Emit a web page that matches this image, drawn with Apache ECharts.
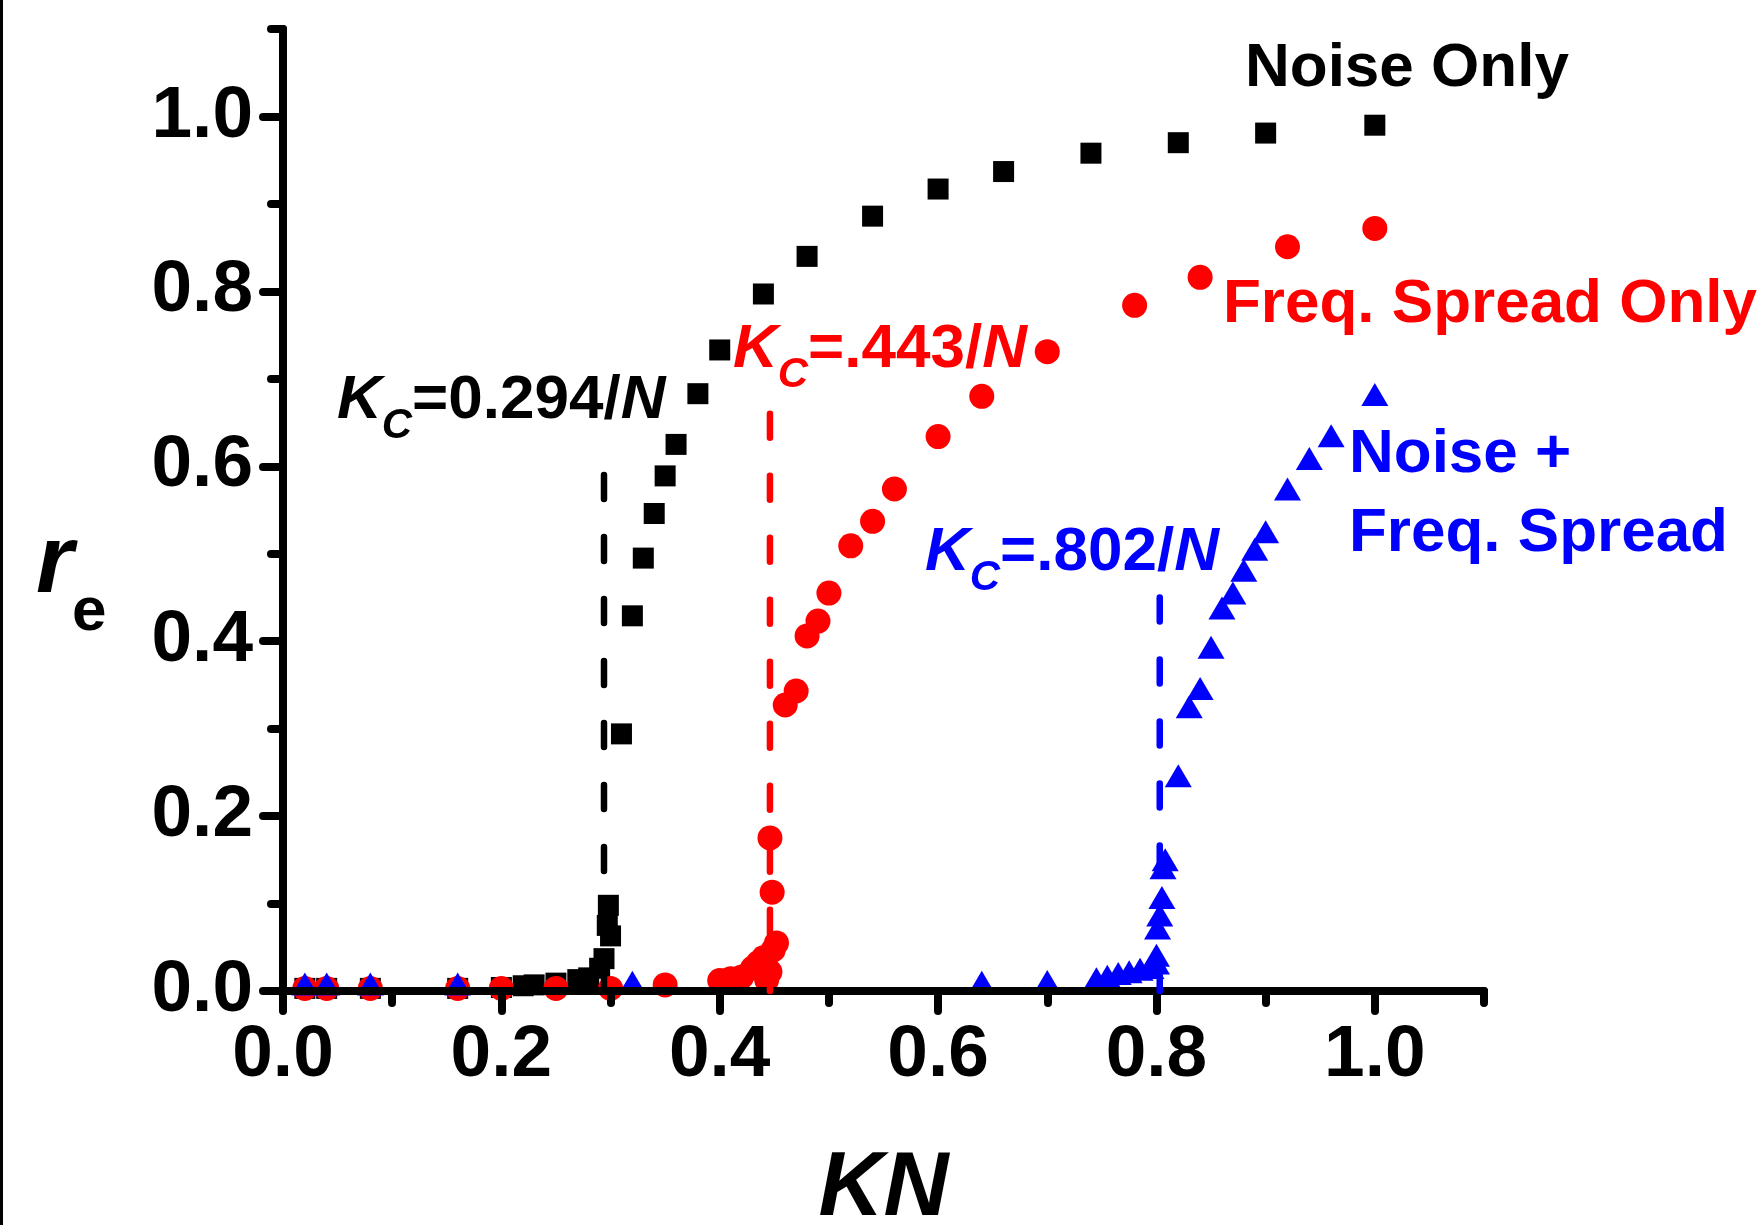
<!DOCTYPE html>
<html>
<head>
<meta charset="utf-8">
<title>r_e vs KN</title>
<script src="https://cdn.jsdelivr.net/npm/echarts@6/dist/echarts.min.js"></script>
<style>
  html, body { margin: 0; padding: 0; background: #fff; }
  #chart { width: 1764px; height: 1225px; }
</style>
</head>
<body>
<div id="chart"></div>
<script>
// values
var noiseKN = [0.02, 0.04, 0.08, 0.16, 0.20, 0.22, 0.23, 0.25, 0.27, 0.28, 0.29, 0.294, 0.297, 0.298, 0.30,
               0.31, 0.32, 0.33, 0.34, 0.35, 0.36, 0.38, 0.40, 0.44, 0.48, 0.54, 0.60, 0.66, 0.74, 0.82, 0.90, 1.00];
var noiseR  = [0.003, 0.003, 0.003, 0.003, 0.004, 0.006, 0.007, 0.009, 0.013, 0.015, 0.026, 0.037, 0.075, 0.098, 0.063,
               0.294, 0.429, 0.495, 0.546, 0.589, 0.625, 0.683, 0.733, 0.797, 0.840, 0.886, 0.917, 0.937, 0.958, 0.970, 0.981, 0.990];

var freqKN = [0.02, 0.04, 0.08, 0.16, 0.20, 0.25, 0.30, 0.35, 0.40, 0.41, 0.42, 0.43, 0.435, 0.44, 0.443, 0.446,
              0.449, 0.452, 0.448, 0.446, 0.46, 0.47, 0.48, 0.49, 0.50, 0.52, 0.54, 0.56, 0.60, 0.64, 0.70, 0.78,
              0.84, 0.92, 1.00];
var freqR  = [0.003, 0.003, 0.003, 0.003, 0.003, 0.003, 0.003, 0.007, 0.012, 0.014, 0.016, 0.026, 0.032, 0.038, 0.013, 0.022,
              0.047, 0.055, 0.113, 0.175, 0.327, 0.343, 0.406, 0.423, 0.455, 0.509, 0.537, 0.574, 0.634, 0.680, 0.731, 0.784,
              0.816, 0.851, 0.872];

var bothKN = [0.02, 0.04, 0.08, 0.16, 0.32, 0.64, 0.70, 0.745, 0.755, 0.765, 0.775, 0.785, 0.795, 0.80, 0.80, 0.801,
              0.803, 0.805, 0.806, 0.808, 0.82, 0.83, 0.84, 0.85, 0.86, 0.87, 0.88, 0.89, 0.90, 0.92, 0.94, 0.96, 1.00];
var bothR  = [0.008, 0.008, 0.008, 0.008, 0.010, 0.010, 0.011, 0.014, 0.017, 0.020, 0.022, 0.025, 0.027, 0.032, 0.041, 0.072,
              0.087, 0.107, 0.141, 0.150, 0.246, 0.325, 0.346, 0.393, 0.438, 0.455, 0.481, 0.505, 0.525, 0.574, 0.609, 0.635, 0.682];

// critical coupling markers (dashed verticals)
var kcKN   = [0.294, 0.446, 0.803];
var kcTop  = [0.59, 0.66, 0.45];
var kcText = ['=0.294/', '=.443/', '=.802/'];

var majorTicks = [0, 0.2, 0.4, 0.6, 0.8, 1.0];
var minorTicks = [0.1, 0.3, 0.5, 0.7, 0.9, 1.1];

var FONT = '"Liberation Sans", Arial, sans-serif';
var BLACK = '#000000', RED = '#ff0000', BLUE = '#0000ff';

function pairs(xs, ys) {
    return xs.map(function (x, i) { return [x, ys[i]]; });
}

function mainAxis(pos, margin, name) {
    return {
        type: 'value', min: 0, max: 1.1, position: pos, z: 3,
        name: name || '',
        nameLocation: 'middle',
        nameGap: 154,
        nameTextStyle: { fontFamily: FONT, fontWeight: 'bold', fontStyle: 'italic', fontSize: 90, color: BLACK },
        axisLine: { lineStyle: { color: BLACK, width: 8, cap: 'round' } },
        axisTick: { customValues: majorTicks, length: 20, lineStyle: { color: BLACK, width: 8, cap: 'round' } },
        axisLabel: {
            customValues: majorTicks, margin: margin,
            formatter: function (v) { return v.toFixed(1); },
            color: BLACK, fontFamily: FONT, fontWeight: 'bold', fontSize: 73
        },
        splitLine: { show: false }
    };
}

// second axis only draws the short ticks at the odd tenths
function minorAxis(pos) {
    return {
        type: 'value', min: 0, max: 1.1, position: pos, offset: 0, z: 3,
        axisLine: { show: false },
        axisTick: { customValues: minorTicks, length: 12, lineStyle: { color: BLACK, width: 8, cap: 'round' } },
        axisLabel: { show: false },
        splitLine: { show: false }
    };
}

function scatter(name, data, symbol, size, color) {
    return {
        name: name, type: 'scatter', xAxisIndex: 0, yAxisIndex: 0, z: 2,
        symbol: symbol, symbolSize: size, data: data,
        itemStyle: { color: color, opacity: 1 }
    };
}

function kcLine(i, color) {
    return {
        type: 'line', xAxisIndex: 0, yAxisIndex: 0, z: 4, symbol: 'none', silent: true,
        data: [[kcKN[i], kcTop[i]], [kcKN[i], 0]],
        lineStyle: { color: color, width: 6.5, type: [24, 38], cap: 'round' }
    };
}

function plainText(str, x, y, color, size) {
    return {
        type: 'text', x: x, y: y, z: 10,
        style: {
            text: str, fill: color, font: 'bold ' + size + 'px ' + FONT,
            align: 'left', verticalAlign: 'top', textAlign: 'left', textVerticalAlign: 'top'
        }
    };
}

function kcLabel(i, x, y, color) {
    return {
        type: 'text', x: x, y: y, z: 10,
        style: {
            text: '{k|K}{c|C}{v|' + kcText[i] + '}{k|N}',
            fill: color, align: 'left', verticalAlign: 'top',
            rich: {
                k: { font: 'italic bold 62px ' + FONT, fontStyle: 'italic', fontWeight: 'bold', fontSize: 62, fontFamily: FONT, verticalAlign: 'top', fill: color },
                c: { font: 'italic bold 42px ' + FONT, fontStyle: 'italic', fontWeight: 'bold', fontSize: 42, fontFamily: FONT, verticalAlign: 'top', padding: [36, 0, 0, 0], fill: color },
                v: { font: 'bold 62px ' + FONT, fontWeight: 'bold', fontSize: 62, fontFamily: FONT, verticalAlign: 'top', fill: color }
            }
        }
    };
}

var chart = echarts.init(document.getElementById('chart'));
chart.setOption({
    animation: false,
    backgroundColor: '#ffffff',
    grid: { left: 283, right: 280, top: 29, bottom: 234, containLabel: false, outerBoundsMode: 'none' },
    xAxis: [mainAxis('bottom', 28, 'KN'), minorAxis('bottom')],
    yAxis: [mainAxis('left', 30), minorAxis('left')],
    series: [
        scatter('Noise Only', pairs(noiseKN, noiseR), 'rect', 21, BLACK),
        scatter('Freq. Spread Only', pairs(freqKN, freqR), 'circle', 25, RED),
        scatter('Noise + Freq. Spread', pairs(bothKN, bothR), 'triangle', [27, 23], BLUE),
        kcLine(0, BLACK),
        kcLine(1, RED),
        kcLine(2, BLUE)
    ],
    graphic: [
        { type: 'rect', shape: { x: 0, y: 0, width: 3, height: 1225 }, style: { fill: BLACK } },
        plainText('Noise Only', 1245, 37.5, BLACK, 62),
        plainText('Freq. Spread Only', 1223, 274, RED, 62),
        plainText('Noise +', 1349, 424, BLUE, 62),
        plainText('Freq. Spread', 1349, 503, BLUE, 62),
        kcLabel(0, 337, 369.5, BLACK),
        kcLabel(1, 733, 318.5, RED),
        kcLabel(2, 925, 521.5, BLUE),
        { type: 'text', x: 36, y: 518, z: 10, style: { text: 'r', fill: BLACK, font: 'italic bold 96px ' + FONT, align: 'left', verticalAlign: 'top' } },
        { type: 'text', x: 72, y: 582, z: 10, style: { text: 'e', fill: BLACK, font: 'bold 62px ' + FONT, align: 'left', verticalAlign: 'top' } }
    ]
});
</script>
</body>
</html>
